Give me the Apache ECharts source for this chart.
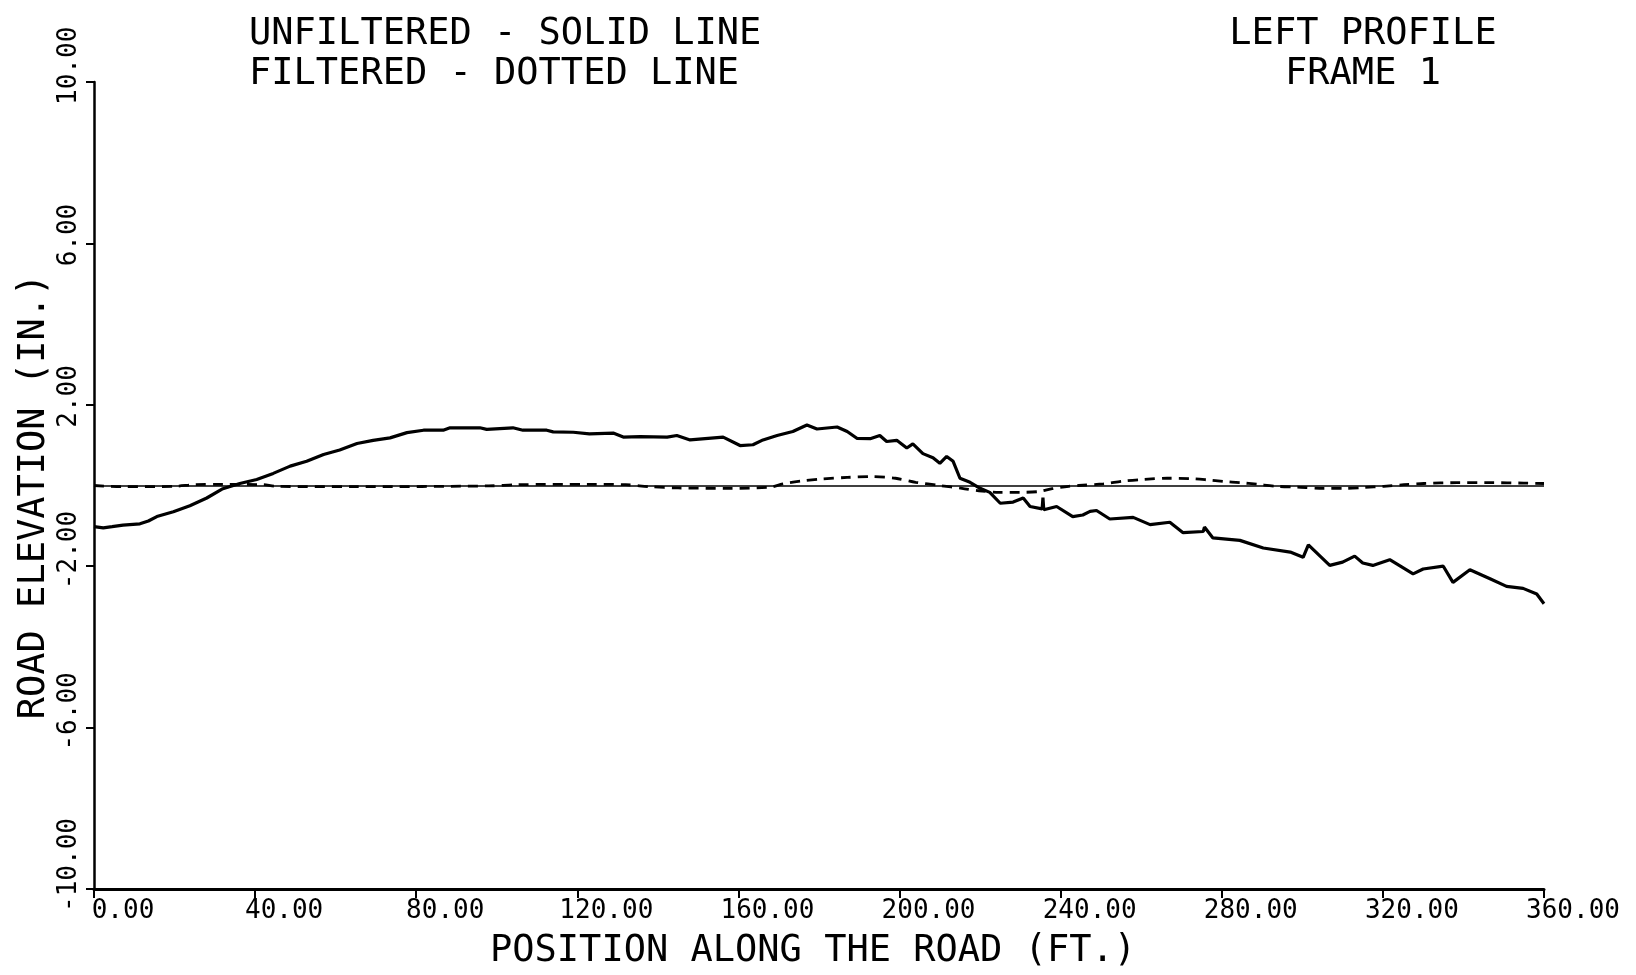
<!DOCTYPE html>
<html>
<head>
<meta charset="utf-8">
<title>Left Profile - Frame 1</title>
<script src="https://cdn.jsdelivr.net/npm/echarts@6/dist/echarts.min.js"></script>
<style>
  html, body { margin: 0; padding: 0; background: #ffffff; }
  #chart { width: 1636px; height: 975px; }
</style>
</head>
<body>
<div id="chart"></div>
<script>
// Unfiltered road profile (solid line): position along the road (ft) and elevation (in.)
const unfilteredPos = [
  0, 2.3, 4.5, 7.2, 11.4, 13.5, 15.6, 19.7, 23.8, 28.0, 32.0, 36.2, 40.4, 44.5, 48.7,
  52.8, 57.0, 61.0, 65.3, 69.3, 73.5, 77.7, 81.8, 86.7, 88.4, 95.8, 97.5, 104.0, 106.5,
  112.4, 114.0, 119.0, 123.0, 128.9, 131.4, 135.6, 142.3, 144.7, 148.0, 156.2, 160.4,
  163.6, 166.1, 169.6, 173.5, 177.0, 179.5, 184.5, 187.0, 189.4, 192.7, 195.1, 196.8,
  199.3, 201.8, 203.3, 205.8, 208.3, 210.0, 211.7, 213.3, 215.0, 217.5, 220.0, 222.4,
  225.0, 228.2, 230.7, 232.4, 235.4, 235.6, 235.8, 239.0, 243.0, 245.5, 247.3, 248.9,
  252.2, 258.0, 262.2, 267.1, 270.4, 275.4, 275.7, 277.8, 284.5, 290.3, 297.0, 300.2,
  301.5, 306.8, 310.0, 313.0, 315.0, 317.5, 321.7, 327.5, 330.0, 335.0, 337.4, 341.6,
  346.6, 350.7, 354.8, 358.2, 360.0
];
const unfilteredElev = [
  -1.02, -1.05, -1.02, -0.98, -0.95, -0.88, -0.77, -0.65, -0.50, -0.31, -0.08, 0.05, 0.15, 0.30, 0.48,
  0.60, 0.77, 0.88, 1.04, 1.12, 1.18, 1.31, 1.37, 1.37, 1.43, 1.43, 1.39, 1.43, 1.37,
  1.37, 1.33, 1.32, 1.28, 1.30, 1.20, 1.21, 1.20, 1.24, 1.13, 1.20, 0.99,
  1.01, 1.13, 1.24, 1.34, 1.50, 1.40, 1.45, 1.34, 1.17, 1.16, 1.24, 1.09,
  1.12, 0.93, 1.03, 0.79, 0.69, 0.55, 0.72, 0.60, 0.18, 0.08, -0.07, -0.17,
  -0.44, -0.41, -0.31, -0.52, -0.58, -0.30, -0.60, -0.52, -0.77, -0.73, -0.64, -0.62,
  -0.83, -0.79, -0.97, -0.91, -1.17, -1.14, -1.03, -1.30, -1.36, -1.55, -1.65, -1.78,
  -1.47, -1.98, -1.90, -1.75, -1.92, -1.98, -1.84, -2.19, -2.07, -2.00, -2.40, -2.09,
  -2.31, -2.50, -2.55, -2.69, -2.93
];

// Filtered road profile (dotted line)
const filteredPos = [
  0, 7, 20, 25, 32, 42, 45, 65, 98, 105, 123, 132, 138, 145, 158, 168, 171, 175.6,
  180.5, 187, 192.7, 199, 204, 210, 215.5, 219.7, 224.7, 229.6, 234.6, 237.9, 242,
  244.5, 250.6, 255.6, 260.5, 266.4, 272.2, 276.3, 280.5, 284.6, 288.8, 293.7, 298.7,
  305.3, 310.3, 315.3, 320.2, 325.2, 330.2, 338.4, 346.7, 355, 360
];
const filteredElev = [
  0.00, -0.03, -0.02, 0.02, 0.03, 0.02, -0.02, -0.03, -0.01, 0.02, 0.03, 0.02, -0.03, -0.06, -0.07, -0.04, 0.04, 0.11,
  0.16, 0.20, 0.22, 0.18, 0.08, 0.00, -0.07, -0.13, -0.17, -0.17, -0.15, -0.08, -0.02,
  0.00, 0.04, 0.11, 0.15, 0.18, 0.17, 0.14, 0.10, 0.07, 0.03, -0.02, -0.04,
  -0.07, -0.07, -0.05, -0.02, 0.02, 0.05, 0.07, 0.07, 0.06, 0.05
];

// Axis ranges and headings
const xRange = [0, 360];
const xStep = 40;
const yRange = [-10, 10];
const yStep = 4;
const legendNote = ['UNFILTERED - SOLID LINE', 'FILTERED - DOTTED LINE'];
const frameNote = ['LEFT PROFILE', 'FRAME 1'];
const xName = 'POSITION ALONG THE ROAD (FT.)';
const yName = 'ROAD ELEVATION (IN.)';

const FONT = '"DejaVu Sans Mono", "Liberation Mono", monospace';
const INK = '#000000';

const toPairs = (xs, ys) => xs.map((x, i) => [x, ys[i]]);

const chart = echarts.init(document.getElementById('chart'), null, { renderer: 'canvas' });

const headingStyle = {
  fontFamily: FONT,
  fontSize: 37,
  fontWeight: 'normal',
  color: INK,
  lineHeight: 40
};

chart.setOption({
  animation: false,
  backgroundColor: '#ffffff',
  title: [
    {
      text: legendNote.join('\n'),
      left: 249,
      top: 14,
      padding: 0,
      textStyle: headingStyle
    },
    {
      text: frameNote.join('\n'),
      left: 1363,
      top: 14,
      padding: 0,
      textAlign: 'center',
      textStyle: headingStyle
    }
  ],
  grid: {
    left: 94,
    right: 92,
    top: 82,
    bottom: 86,
    containLabel: false,
    outerBoundsMode: 'none'
  },
  xAxis: {
    type: 'value',
    min: xRange[0],
    max: xRange[1],
    interval: xStep,
    name: xName,
    nameLocation: 'middle',
    nameGap: 62,
    nameMoveOverlap: false,
    nameTextStyle: {
      fontFamily: FONT,
      fontSize: 37,
      color: INK,
      verticalAlign: 'middle',
      padding: [0, 12, 0, 0]
    },
    axisLine: { show: true, onZero: false, lineStyle: { color: INK, width: 3 } },
    axisTick: { show: true, length: 9, lineStyle: { color: INK, width: 2 } },
    axisLabel: {
      formatter: v => v.toFixed(2),
      fontFamily: FONT,
      fontSize: 26,
      color: INK,
      margin: 9,
      align: 'center',
      padding: [0, 0, 0, 58]
    },
    splitLine: { show: false }
  },
  yAxis: {
    type: 'value',
    min: yRange[0],
    max: yRange[1],
    interval: yStep,
    name: yName,
    nameLocation: 'middle',
    nameRotate: 90,
    nameGap: 60,
    nameMoveOverlap: false,
    nameTextStyle: {
      fontFamily: FONT,
      fontSize: 37,
      color: INK,
      verticalAlign: 'middle',
      align: 'center',
      padding: [0, 22, 0, 0]
    },
    axisLine: { show: true, onZero: false, lineStyle: { color: INK, width: 2.5 } },
    axisTick: { show: true, length: 8, lineStyle: { color: INK, width: 2 } },
    axisLabel: {
      rotate: 90,
      formatter: v => v.toFixed(2).padEnd(6, ' '),
      fontFamily: FONT,
      fontSize: 26,
      color: INK,
      margin: 12,
      align: 'center',
      verticalAlign: 'bottom',
      padding: [0, 0, 0, 48]
    },
    splitLine: { show: false }
  },
  series: [
    {
      name: 'Unfiltered',
      type: 'line',
      data: toPairs(unfilteredPos, unfilteredElev),
      showSymbol: false,
      symbol: 'none',
      smooth: false,
      lineStyle: { color: INK, width: 3.2, type: 'solid' },
      markLine: {
        silent: true,
        symbol: ['none', 'none'],
        label: { show: false },
        lineStyle: { color: INK, width: 1.5, type: 'solid' },
        data: [{ yAxis: 0 }]
      },
      z: 3
    },
    {
      name: 'Filtered',
      type: 'line',
      data: toPairs(filteredPos, filteredElev),
      showSymbol: false,
      symbol: 'none',
      smooth: 0.3,
      lineStyle: { color: INK, width: 2.8, type: [10, 7] },
      z: 2
    }
  ]
});
</script>
</body>
</html>
